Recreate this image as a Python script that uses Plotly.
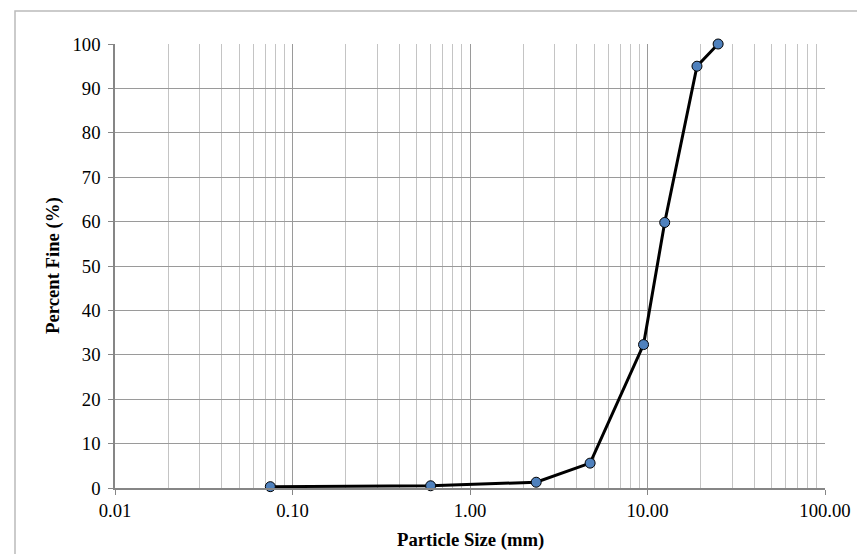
import plotly.graph_objects as go

particle_size_mm = [0.075, 0.6, 2.36, 4.75, 9.5, 12.5, 19.0, 25.0]
percent_fine = [0.3, 0.5, 1.3, 5.6, 32.3, 59.8, 95.0, 100.0]

x_tick_vals = [0.01, 0.1, 1, 10, 100]
x_tick_text = ["0.01", "0.10", "1.00", "10.00", "100.00"]
y_tick_vals = [0, 10, 20, 30, 40, 50, 60, 70, 80, 90, 100]

W, H = 865, 554
L, R, T, B = 107, 48, 36, 74
pw, ph = W - L - R, H - T - B

def px_x(p):
    return (p - L) / pw

def px_y(p):
    return (H - B - p) / ph

font_fam = "Liberation Serif, Times New Roman, serif"

fig = go.Figure()
fig.add_trace(go.Scatter(
    x=particle_size_mm, y=percent_fine, mode="lines+markers",
    line=dict(color="black", width=3),
    marker=dict(size=10, color="#4F81BD", line=dict(color="black", width=1)),
    showlegend=False, cliponaxis=False,
))

fig.update_layout(
    width=W, height=H,
    margin=dict(l=L, r=R, t=T, b=B, pad=0),
    paper_bgcolor="white", plot_bgcolor="white",
    font=dict(family=font_fam, size=18.7, color="black"),
    xaxis=dict(
        type="log", range=[-2, 2], tickvals=x_tick_vals, ticktext=x_tick_text,
        showgrid=True, gridcolor="#9A9A9A", gridwidth=1,
        minor=dict(dtick="D1", showgrid=True, gridcolor="#C4C4C4", gridwidth=1, ticks=""),
        showline=True, linecolor="#868686", linewidth=1.5,
        ticks="outside", ticklen=5, tickcolor="#868686",
        zeroline=False, mirror=False,
    ),
    yaxis=dict(
        range=[0, 100], tickvals=y_tick_vals,
        showgrid=True, gridcolor="#9A9A9A", gridwidth=1,
        showline=True, linecolor="#868686", linewidth=1.5,
        ticks="outside", ticklen=5, tickcolor="#868686",
        ticklabelstandoff=4,
        zeroline=False,
    ),
    shapes=[dict(type="rect", xref="paper", yref="paper",
                 x0=px_x(7), x1=px_x(866), y0=px_y(553), y1=px_y(3),
                 line=dict(color="#BBBBBB", width=1.5), fillcolor="rgba(0,0,0,0)", layer="below")],
    annotations=[
        dict(text="<b>Particle Size (mm)</b>", xref="paper", yref="paper",
             x=0.5, y=px_y(532), xanchor="center", yanchor="middle", showarrow=False,
             font=dict(family=font_fam, size=18.7)),
        dict(text="<b>Percent Fine (%)</b>", xref="paper", yref="paper",
             x=px_x(45), y=px_y(258), xanchor="center", yanchor="middle", showarrow=False,
             textangle=-90, font=dict(family=font_fam, size=18.7)),
    ],
)

fig.write_html("out.html")
